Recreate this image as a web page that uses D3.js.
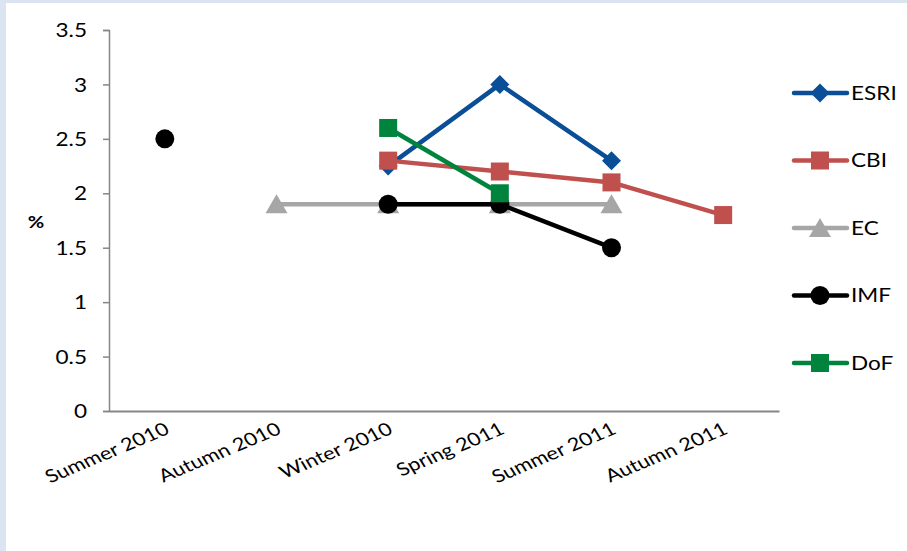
<!DOCTYPE html>
<html lang="en">
<head>
<meta charset="utf-8">
<title>forecasts</title>
<script src="https://cdn.jsdelivr.net/npm/d3@7"></script>
<style>
  body{margin:0;background:#dbe5f1;}
  #chart{position:absolute;left:0;top:0;}
  text{font-family:Lato, "Open Sans", sans-serif;fill:#000;}
</style>
</head>
<body>
<div id="chart"></div>
<script>
// values
var categories = ["Summer 2010","Autumn 2010","Winter 2010","Spring 2011","Summer 2011","Autumn 2011"]
var esri = [null,null,2.25,3.0,2.3,null]
var cbi  = [null,null,2.3,2.2,2.1,1.8]
var ec   = [null,1.9,1.9,1.9,1.9,null]
var imf  = [2.5,null,1.9,1.9,1.5,null]
var dof  = [null,null,2.6,2.0,null,null]
var yTicks = [0,0.5,1,1.5,2,2.5,3,3.5]

var series = [
  {name:"ESRI", values:esri, color:"#094e96", shape:"diamond"},
  {name:"CBI",  values:cbi,  color:"#c0504d", shape:"square"},
  {name:"EC",   values:ec,   color:"#a6a6a6", shape:"triangle"},
  {name:"IMF",  values:imf,  color:"#000000", shape:"circle"},
  {name:"DoF",  values:dof,  color:"#00843d", shape:"square"}
]

var W = 907, H = 551
var SX = 1.22 // the text in the picture is drawn a bit wide
var svg = d3.select("#chart").append("svg").attr("width",W).attr("height",H)

// white panel inside the light blue frame
svg.append("rect").attr("x",6).attr("y",3).attr("width",W-6).attr("height",H-3).attr("fill","#fff")

var x = d3.scaleBand().domain(categories).range([109,779])
var y = d3.scaleLinear().domain([0,3.5]).range([411,30])
var cx = function(i){ return x(categories[i]) + x.bandwidth()/2 }

// y axis
var yAxis = svg.append("g").attr("transform","translate(109,0)")
  .call(d3.axisLeft(y).tickValues(yTicks).tickSize(6).tickPadding(14).tickFormat(d3.format("")))
yAxis.select(".domain").attr("stroke","#868686").attr("stroke-width",1.5)
yAxis.selectAll(".tick line").attr("stroke","#868686").attr("stroke-width",1.5)
yAxis.selectAll(".tick text").attr("font-size",18.5).attr("font-family",null).attr("fill","#000")
  .attr("x",-22/SX).attr("dy","0.36em").attr("transform","scale("+SX+",1)")

// x axis
var xAxis = svg.append("g").attr("transform","translate(0,411)")
  .call(d3.axisBottom(x).tickSize(0).tickSizeOuter(0).tickPadding(0))
xAxis.select(".domain").attr("stroke","#868686").attr("stroke-width",2)
xAxis.selectAll(".tick text")
  .attr("font-size",18).attr("font-family",null).attr("fill","#000")
  .attr("text-anchor","end")
  .attr("x",0).attr("y",0).attr("dy",0)
  .attr("transform","translate(6,22) scale("+SX+",1) rotate(-27)")

// y title
svg.append("text").attr("transform","translate(36,228) scale("+SX+",1)").attr("text-anchor","middle")
  .attr("font-size",16.5).attr("font-weight","bold").text("%")

var line = d3.line()
  .defined(function(d){ return d != null })
  .x(function(d,i){ return cx(i) })
  .y(function(d){ return y(d) })

function drawMarker(g, shape, color, px, py){
  if(shape=="diamond"){
    g.append("path").attr("d",d3.symbol().type(d3.symbolDiamond2).size(230)())
      .attr("transform","translate("+px+","+py+")").attr("fill",color)
  }else if(shape=="square"){
    g.append("rect").attr("x",px-9).attr("y",py-9).attr("width",18).attr("height",18).attr("fill",color)
  }else if(shape=="triangle"){
    g.append("path").attr("d","M"+(px)+","+(py-10)+"L"+(px+11)+","+(py+9)+"L"+(px-11)+","+(py+9)+"Z").attr("fill",color)
  }else{
    g.append("circle").attr("cx",px).attr("cy",py).attr("r",9.5).attr("fill",color)
  }
}

series.forEach(function(s){
  var g = svg.append("g")
  g.append("path").datum(s.values).attr("d",line)
    .attr("fill","none").attr("stroke",s.color).attr("stroke-width",4.5).attr("stroke-linejoin","round")
  s.values.forEach(function(v,i){
    if(v != null) drawMarker(g, s.shape, s.color, cx(i), y(v))
  })
})

// legend
var leg = svg.append("g")
series.forEach(function(s,i){
  var ly = 93 + i*67.5
  var g = leg.append("g")
  g.append("line").attr("x1",794).attr("x2",847).attr("y1",ly).attr("y2",ly)
    .attr("stroke",s.color).attr("stroke-width",4.5).attr("stroke-linecap","round")
  drawMarker(g, s.shape, s.color, 820, ly)
  g.append("text").attr("transform","translate(851,"+(ly+6.5)+") scale("+SX+",1)").attr("font-size",18.5).text(s.name)
})
</script>
</body>
</html>
